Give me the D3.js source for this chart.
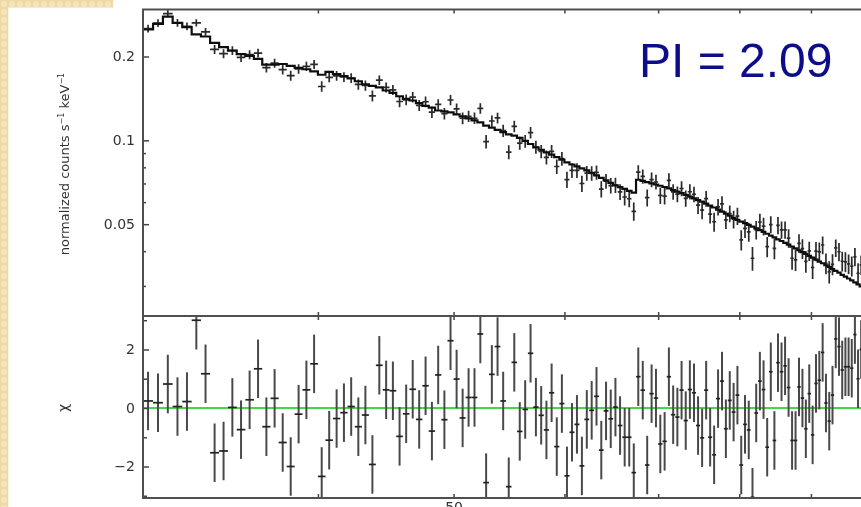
<!DOCTYPE html>
<html>
<head>
<meta charset="utf-8">
<script src="https://cdn.jsdelivr.net/npm/d3@7"></script>
<style>
  html, body { margin: 0; padding: 0; background: #fff; overflow: hidden; }
  svg { display: block; }
</style>
</head>
<body>
<svg id="chart" width="861" height="507"></svg>
<script>
// Energy bin centres (keV); every bin is 0.5 keV wide
const energy = [
  30.25, 30.75, 31.25, 31.75, 32.25, 32.75, 33.25, 33.75, 34.25, 34.75,
  35.25, 35.75, 36.25, 36.75, 37.25, 37.75, 38.25, 38.75, 39.25, 39.75,
  40.25, 40.75, 41.25, 41.75, 42.25, 42.75, 43.25, 43.75, 44.25, 44.75,
  45.25, 45.75, 46.25, 46.75, 47.25, 47.75, 48.25, 48.75, 49.25, 49.75,
  50.25, 50.75, 51.25, 51.75, 52.25, 52.75, 53.25, 53.75, 54.25, 54.75,
  55.25, 55.75, 56.25, 56.75, 57.25, 57.75, 58.25, 58.75, 59.25, 59.75,
  60.25, 60.75, 61.25, 61.75, 62.25, 62.75, 63.25, 63.75, 64.25, 64.75,
  65.25, 65.75, 66.25, 66.75, 67.25, 67.75, 68.25, 68.75, 69.25, 69.75,
  70.25, 70.75, 71.25, 71.75, 72.25, 72.75, 73.25, 73.75, 74.25, 74.75,
  75.25, 75.75, 76.25, 76.75, 77.25, 77.75, 78.25, 78.75, 79.25, 79.75,
  80.25, 80.75, 81.25, 81.75, 82.25, 82.75, 83.25, 83.75, 84.25, 84.75,
  85.25, 85.75, 86.25, 86.75, 87.25, 87.75, 88.25, 88.75, 89.25, 89.75,
  90.25, 90.75, 91.25, 91.75, 92.25, 92.75, 93.25, 93.75, 94.25, 94.75,
  95.25, 95.75, 96.25, 96.75, 97.25, 97.75
];
const binHalfWidth = 0.25;

// Folded power-law model, normalized counts s^-1 keV^-1
const model = [
  0.250, 0.262, 0.278, 0.264, 0.255, 0.240, 0.236, 0.224, 0.216, 0.210,
  0.204, 0.201, 0.196, 0.187, 0.187, 0.188, 0.185, 0.182, 0.180, 0.177,
  0.172, 0.176, 0.173, 0.170, 0.167, 0.163, 0.159, 0.157, 0.155, 0.151,
  0.148, 0.144, 0.141, 0.139, 0.136, 0.133, 0.131, 0.128, 0.127, 0.126,
  0.124, 0.122, 0.120, 0.118, 0.116, 0.113, 0.111, 0.109, 0.107, 0.105,
  0.104, 0.102, 0.0996, 0.0970, 0.0944, 0.0925, 0.0906, 0.0888, 0.0870, 0.0852,
  0.0834, 0.0819, 0.0806, 0.0793, 0.0780, 0.0765, 0.0749, 0.0733, 0.0718, 0.0704,
  0.0689, 0.0679, 0.0669, 0.0659, 0.0649, 0.0722, 0.0715, 0.0708, 0.0701, 0.0694,
  0.0687, 0.0680, 0.0672, 0.0663, 0.0654, 0.0646, 0.0637, 0.0628, 0.0619, 0.0610,
  0.0602, 0.0593, 0.0583, 0.0574, 0.0564, 0.0555, 0.0545, 0.0536, 0.0526, 0.0518,
  0.0511, 0.0504, 0.0497, 0.0490, 0.0483, 0.0476, 0.0469, 0.0462, 0.0455, 0.0448,
  0.0441, 0.0435, 0.0428, 0.0422, 0.0415, 0.0409, 0.0403, 0.0397, 0.0391, 0.0385,
  0.0379, 0.0373, 0.0367, 0.0362, 0.0356, 0.0351, 0.0345, 0.0340, 0.0335, 0.0329,
  0.0324, 0.0319, 0.0314, 0.0309, 0.0304, 0.0299
];

// 1-sigma uncertainty of each bin (same units as the model)
const sigma = [
  0.0083, 0.0084, 0.0087, 0.0085, 0.0083, 0.0081, 0.0080, 0.0078, 0.0077, 0.0076,
  0.0075, 0.0074, 0.0073, 0.0071, 0.0071, 0.0072, 0.0071, 0.0070, 0.0070, 0.0069,
  0.0068, 0.0069, 0.0069, 0.0068, 0.0067, 0.0067, 0.0066, 0.0065, 0.0065, 0.0064,
  0.0063, 0.0063, 0.0062, 0.0062, 0.0061, 0.0060, 0.0060, 0.0059, 0.0059, 0.0059,
  0.0058, 0.0058, 0.0057, 0.0057, 0.0056, 0.0055, 0.0055, 0.0054, 0.0054, 0.0053,
  0.0053, 0.0053, 0.0052, 0.0051, 0.0051, 0.0050, 0.0050, 0.0049, 0.0049, 0.0048,
  0.0048, 0.0047, 0.0047, 0.0047, 0.0046, 0.0046, 0.0045, 0.0045, 0.0044, 0.0044,
  0.0043, 0.0043, 0.0043, 0.0042, 0.0042, 0.0044, 0.0044, 0.0044, 0.0044, 0.0043,
  0.0043, 0.0043, 0.0043, 0.0042, 0.0042, 0.0042, 0.0042, 0.0041, 0.0041, 0.0041,
  0.0040, 0.0040, 0.0040, 0.0040, 0.0039, 0.0039, 0.0038, 0.0038, 0.0038, 0.0038,
  0.0037, 0.0037, 0.0037, 0.0037, 0.0036, 0.0036, 0.0036, 0.0035, 0.0035, 0.0035,
  0.0035, 0.0034, 0.0034, 0.0034, 0.0034, 0.0033, 0.0033, 0.0033, 0.0033, 0.0032,
  0.0032, 0.0032, 0.0032, 0.0031, 0.0031, 0.0031, 0.0031, 0.0030, 0.0030, 0.0030,
  0.0030, 0.0029, 0.0029, 0.0029, 0.0029, 0.0029
];

// Residuals (data - model) / sigma
const chi = [
  0.24, 0.18, 0.82, 0.05, 0.22, 3.00, 1.17, -1.53, -1.47, 0.02,
  -0.74, 0.28, 1.34, -0.64, 0.33, -1.18, -2.00, -0.21, 0.62, 1.51,
  -2.34, -1.10, -0.36, -0.16, 0.05, -0.64, -0.24, -1.93, 1.46, 0.62,
  0.59, -0.97, -0.20, 0.64, -0.39, 0.76, -0.79, 1.13, -0.40, 2.30,
  0.99, -0.34, 0.36, 0.36, 2.53, -2.55, 1.15, 2.10, 0.24, -2.69,
  1.56, -0.80, -0.05, 1.87, 0.03, -0.25, -0.75, 0.52, -1.32, 0.15,
  -2.32, -0.83, -0.56, -1.98, -0.39, -0.08, 0.40, -1.44, -0.10, -0.37,
  0.03, -0.60, -1.00, -1.00, -2.21, 1.07, 0.61, -1.95, 0.49, 0.34,
  -1.23, -1.14, 1.07, -0.23, -0.31, 0.61, -0.43, 0.63, 0.52, -0.60,
  -1.02, 0.61, -1.00, -1.60, 0.32, 0.92, -0.71, 0.26, -0.14, 0.44,
  -1.95, -0.56, -0.75, -3.05, -0.17, 0.92, 0.63, -1.34, 1.24, -1.11,
  1.55, 1.24, 1.44, 0.70, -1.11, -1.11, 0.72, 0.34, -0.71, 0.49,
  -0.92, 0.84, 0.95, 1.90, 0.17, -0.45, 0.44, 2.36, 2.10, 1.30,
  1.41, 1.41, 1.36, 2.51, 1.00, 2.00
];

// Axis ticks
const energyTicks = [40, 50, 60, 70, 80, 90];
const energyLabels = [50];
const countMajor = [0.2, 0.1, 0.05];
const countMinor = [0.09, 0.08, 0.07, 0.06, 0.04, 0.03];
const chiMajor = [2, 0, -2];
const chiMinor = [3, 1, -1, -3];

const photonIndex = "2.09";

// ---------------------------------------------------------------
const W = 861, H = 507;
const L = 143, R = 875, T = 9.5, MID = 316, B = 498;

const svg = d3.select("#chart");
const defs = svg.append("defs");

const pat = defs.append("pattern").attr("id", "paper")
  .attr("width", 8).attr("height", 8).attr("patternUnits", "userSpaceOnUse");
pat.append("rect").attr("width", 8).attr("height", 8).attr("fill", "#eed9a3");
pat.append("rect").attr("x", 1).attr("y", 1).attr("width", 6).attr("height", 6)
  .attr("rx", 2).attr("fill", "#f4e4bb");

defs.append("filter").attr("id", "soft")
  .attr("x", "-5%").attr("y", "-5%").attr("width", "110%").attr("height", "110%")
  .append("feGaussianBlur").attr("stdDeviation", 0.45);

defs.append("clipPath").attr("id", "clipTop")
  .append("rect").attr("x", L).attr("y", T).attr("width", R - L).attr("height", MID - T);
defs.append("clipPath").attr("id", "clipRes")
  .append("rect").attr("x", L).attr("y", MID).attr("width", R - L).attr("height", B - MID);

// page background with the slide border strip
svg.append("rect").attr("width", W).attr("height", H).attr("fill", "#fff");
svg.append("rect").attr("x", 0).attr("y", 0).attr("width", 113).attr("height", 7.5).attr("fill", "url(#paper)");
svg.append("rect").attr("x", 0).attr("y", 0).attr("width", 8.3).attr("height", H).attr("fill", "url(#paper)");

// scales
const x = d3.scaleLog().domain([30, 100]).range([L, R]);
const yTop = d3.scaleLog().domain([0.0234, 0.295]).range([MID, T]);
const yRes = d3.scaleLinear().domain([-3.077, 3.145]).range([B, MID]);

const bins = energy.map((e, i) => ({
  e, m: model[i], s: sigma[i], r: chi[i],
  c: model[i] + chi[i] * sigma[i]
}));

const plot = svg.append("g").attr("filter", "url(#soft)");
const axisFont = "DejaVu Sans, Verdana, sans-serif";

// ---- upper panel: spectrum ----
const gTop = plot.append("g").attr("clip-path", "url(#clipTop)");

gTop.selectAll("line.ev").data(bins).join("line").attr("class", "ev")
  .attr("x1", d => x(d.e)).attr("x2", d => x(d.e))
  .attr("y1", d => yTop(d.c - d.s)).attr("y2", d => yTop(d.c + d.s))
  .attr("stroke", "#2a2a2a").attr("stroke-width", 1.7);
gTop.selectAll("line.eh").data(bins).join("line").attr("class", "eh")
  .attr("x1", d => x(d.e - binHalfWidth)).attr("x2", d => x(d.e + binHalfWidth))
  .attr("y1", d => yTop(d.c)).attr("y2", d => yTop(d.c))
  .attr("stroke", "#2a2a2a").attr("stroke-width", 1.7);

const stepPts = bins.flatMap(d => [[d.e - binHalfWidth, d.m], [d.e + binHalfWidth, d.m]]);
gTop.append("path")
  .attr("d", d3.line().x(p => x(p[0])).y(p => yTop(p[1]))(stepPts))
  .attr("fill", "none").attr("stroke", "#111").attr("stroke-width", 2.2);

// ---- lower panel: residuals ----
const gRes = plot.append("g").attr("clip-path", "url(#clipRes)");

gRes.append("line")
  .attr("x1", L).attr("x2", R).attr("y1", yRes(0)).attr("y2", yRes(0))
  .attr("stroke", "#45d845").attr("stroke-width", 2.2);

gRes.selectAll("line.rv").data(bins).join("line").attr("class", "rv")
  .attr("x1", d => x(d.e)).attr("x2", d => x(d.e))
  .attr("y1", d => yRes(d.r - 1)).attr("y2", d => yRes(d.r + 1))
  .attr("stroke", "#4a4a4a").attr("stroke-width", 2);
gRes.selectAll("line.rh").data(bins).join("line").attr("class", "rh")
  .attr("x1", d => x(d.e - binHalfWidth)).attr("x2", d => x(d.e + binHalfWidth))
  .attr("y1", d => yRes(d.r)).attr("y2", d => yRes(d.r))
  .attr("stroke", "#222").attr("stroke-width", 1.7);

// ---- axes ----
function styleAxis(g) {
  g.select(".domain").remove();
  g.selectAll(".tick line").attr("stroke", "#444").attr("stroke-width", 1.5);
  g.selectAll(".tick text").attr("fill", "#333")
    .attr("font-family", axisFont).attr("font-size", 14);
}

// count-rate axis
plot.append("g").attr("transform", `translate(${L},0)`)
  .call(d3.axisLeft(yTop).tickValues(countMajor).tickSize(-6).tickPadding(8)
    .tickFormat(d3.format("")))
  .call(styleAxis);
plot.append("g").attr("transform", `translate(${L},0)`)
  .call(d3.axisLeft(yTop).tickValues(countMinor).tickSize(-3).tickFormat(""))
  .call(styleAxis);

// residual axis
plot.append("g").attr("transform", `translate(${L},0)`)
  .call(d3.axisLeft(yRes).tickValues(chiMajor).tickSize(-6).tickPadding(8)
    .tickFormat(d => d < 0 ? "\u2212" + Math.abs(d) : String(d)))
  .call(styleAxis);
plot.append("g").attr("transform", `translate(${L},0)`)
  .call(d3.axisLeft(yRes).tickValues(chiMinor).tickSize(-4).tickFormat(""))
  .call(styleAxis);

// energy ticks on every horizontal frame line
[T, MID].forEach(yy => {
  plot.append("g").attr("transform", `translate(0,${yy})`)
    .call(d3.axisTop(x).tickValues(energyTicks).tickSize(-4).tickFormat(""))
    .call(styleAxis);
});
[MID, B].forEach(yy => {
  plot.append("g").attr("transform", `translate(0,${yy})`)
    .call(d3.axisBottom(x).tickValues(energyTicks).tickSize(-4).tickFormat(""))
    .call(styleAxis);
});
plot.append("g").attr("transform", `translate(0,${B})`)
  .call(d3.axisBottom(x).tickValues(energyLabels).tickSize(0).tickPadding(4)
    .tickFormat(d3.format("")))
  .call(styleAxis);

// frame
const frame = plot.append("g").attr("stroke", "#505050").attr("stroke-width", 2).attr("fill", "none");
frame.append("rect").attr("x", L).attr("y", T).attr("width", R - L).attr("height", MID - T);
frame.append("rect").attr("x", L).attr("y", MID).attr("width", R - L).attr("height", B - MID);

// axis titles
const yl = plot.append("text")
  .attr("transform", "translate(69,164) rotate(-90)")
  .attr("text-anchor", "middle")
  .attr("font-family", axisFont).attr("font-size", 13).attr("fill", "#333");
yl.append("tspan").text("normalized counts s");
yl.append("tspan").attr("font-size", 8).attr("dy", -5).text("\u22121");
yl.append("tspan").attr("dy", 5).text(" keV");
yl.append("tspan").attr("font-size", 8).attr("dy", -5).text("\u22121");

plot.append("text")
  .attr("transform", `translate(68,${yRes(0)}) rotate(-90)`)
  .attr("text-anchor", "middle")
  .attr("font-family", axisFont).attr("font-size", 14).attr("fill", "#333")
  .text("\u03c7");

// photon index annotation
svg.append("text")
  .attr("x", 639).attr("y", 77)
  .attr("font-family", "Liberation Sans, Arial, Helvetica, sans-serif")
  .attr("font-size", 48).attr("fill", "#0d0d8c")
  .text("PI = " + photonIndex);
</script>
</body>
</html>
